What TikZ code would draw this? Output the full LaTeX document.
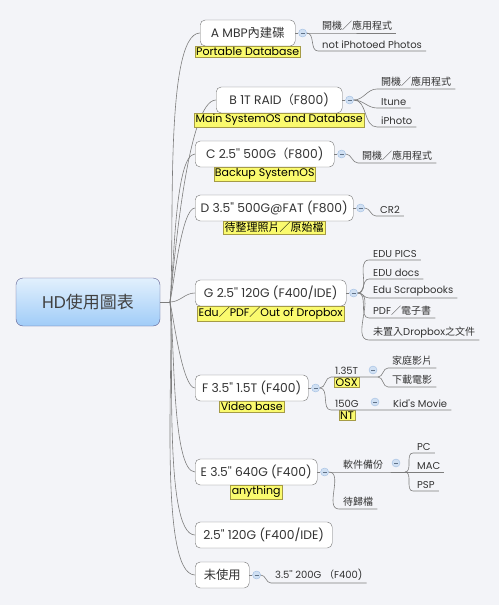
\documentclass[tikz,border=0pt]{standalone}
\usepackage{fontspec}
\setmainfont{Poppins}[Ligatures=TeXOff]
\newfontfamily\zh{Noto Sans CJK TC}
\usetikzlibrary{positioning}

\definecolor{paper}{RGB}{243,244,248}
\definecolor{rim}{RGB}{115,115,115}
\definecolor{twig}{RGB}{125,125,125}
\definecolor{tagfill}{RGB}{250,250,110}
\definecolor{tagrim}{RGB}{165,155,70}
\definecolor{knobfill}{RGB}{208,224,243}
\definecolor{knobrim}{RGB}{160,190,226}
\definecolor{roothi}{RGB}{226,240,253}
\definecolor{rootlo}{RGB}{160,204,248}

\tikzset{
  hd/.style={draw=rim!80!blue, rounded corners=7pt, top color=roothi, bottom color=rootlo,
    minimum width=144pt, minimum height=48pt, font=\fontsize{17}{20}\selectfont, text=black!75},
  drive/.style={draw=rim, rounded corners=5pt, fill=white, minimum height=26pt, anchor=west,
    inner xsep=3pt, font=\fontsize{12.3}{14}\selectfont, text=black!80},
  tag/.style={fill=tagfill, draw=tagrim, inner sep=1.2pt, font=\fontsize{11}{12}\selectfont},
  knob/.style={circle, minimum size=8pt, inner sep=0pt, draw=knobrim, fill=knobfill,
    path picture={\draw[knobrim!60!black] ([xshift=-2pt]path picture bounding box.center)
      -- ([xshift=2pt]path picture bounding box.center);}},
  leaf/.style={anchor=south west, inner xsep=4pt, inner ysep=2.2pt,
    font=\fontsize{10}{11}\selectfont, text=black!80},
  limb/.style={draw=twig, line width=0.6pt},
  trunk/.style={limb, in=180, out looseness=0.5, in looseness=0.35},
}

\begin{document}
\begin{tikzpicture}[x=1pt,y=1pt]
\fill[paper] (0,0) rectangle (499,-605);

\node[hd] at (88,-302) (root) {HD{\zh 使用圖表}};
\coordinate (hub) at (170,-302);
\draw[limb] (root.east) -- (hub);

% drives
\node[drive, minimum width=95pt] at (200,-33) (A) {A MBP{\zh 內建碟}};
\node[drive, minimum width=126pt] at (216,-100) (B) {B 1T RAID{\zh （}F800)};
\node[drive, minimum width=139pt] at (195,-154) (C) {C 2.5'' 500G{\zh （}F800)};
\node[drive, minimum width=158pt] at (195,-208) (D) {D 3.5'' 500G@FAT (F800)};
\node[drive, minimum width=151pt] at (195,-293) (G) {G 2.5'' 120G (F400/IDE)};
\node[drive, minimum width=113pt] at (195,-388) (F) {F 3.5'' 1.5T (F400)};
\node[drive, minimum width=122pt] at (195,-472) (E) {E 3.5'' 640G (F400)};
\node[drive, minimum width=137pt] at (195,-535) (X) {2.5'' 120G (F400/IDE)};
\node[drive, minimum width=54pt] at (195,-575) (U) {{\zh 未使用}};

\draw[trunk, out=84] (hub) to (A.west);
\draw[trunk, out=84] (hub) to (B.west);
\draw[trunk, out=82] (hub) to (C.west);
\draw[trunk, out=78] (hub) to (D.west);
\draw[limb] (hub) to[out=0, in=180] (G.west);
\draw[trunk, out=-78] (hub) to (F.west);
\draw[trunk, out=-82] (hub) to (E.west);
\draw[trunk, out=-84] (hub) to (X.west);
\draw[trunk, out=-85] (hub) to (U.west);

% labels
\node[tag, below=0pt of A] (Atag) {Portable Database};
\node[tag, below=0pt of B] (Btag) {Main SystemOS and Database};
\node[tag, below=0pt of C] (Ctag) {Backup SystemOS};
\node[tag, below=0pt of D] (Dtag) {\zh 待整理照片／原始檔};
\node[tag, below=0pt of G] (Gtag) {Edu{\zh ／}PDF{\zh ／}Out of Dropbox};
\node[tag, below=0pt of F] (Ftag) {Video base};
\node[tag, below=0pt of E] (Etag) {anything};

% knobs
\foreach \d in {A,B,C,D,G,F,E,U}{
  \node[knob, right=3pt of \d] (\d k) {};
  \draw[limb] (\d) -- (\d k);
}

% A
\node[leaf] at (318,-33) (a1) {\zh 開機／應用程式};
\node[leaf] at (318,-51) (a2) {not iPhotoed Photos};
\foreach \l in {a1,a2}
  \draw[limb] (Ak.east) to[out=0, in=180] (\l.south west) -- (\l.south east);

% B
\node[leaf] at (377,-89) (b1) {\zh 開機／應用程式};
\node[leaf] at (377,-108) (b2) {Itune};
\node[leaf] at (377,-127) (b3) {iPhoto};
\foreach \l in {b1,b2,b3}
  \draw[limb] (Bk.east) to[out=0, in=180] (\l.south west) -- (\l.south east);

% C
\node[leaf] at (358,-163) (c1) {\zh 開機／應用程式};
\draw[limb] (Ck.east) to[out=0, in=180] (c1.south west) -- (c1.south east);

% D
\node[leaf] at (376,-216) (d1) {CR2};
\draw[limb] (Dk.east) to[out=0, in=180] (d1.south west) -- (d1.south east);

% G
\node[leaf] at (369,-260) (g1) {EDU PICS};
\node[leaf] at (369,-279) (g2) {EDU docs};
\node[leaf] at (369,-298) (g3) {Edu Scrapbooks};
\node[leaf] at (369,-318) (g4) {PDF{\zh ／電子書}};
\node[leaf] at (369,-340) (g5) {{\zh 未置入}Dropbox{\zh 之文件}};
\foreach \l in {g1,g2,g3,g4,g5}
  \draw[limb] (Gk.east) to[out=0, in=180] (\l.south west) -- (\l.south east);

% F
\node[leaf] at (331,-377) (f1) {1.35T};
\node[tag, below=0pt of f1.south] (f1tag) {OSX};
\node[knob] at (373,-370) (f1k) {};
\coordinate (f1s) at (378,-377);
\node[leaf] at (388,-368) (f11) {\zh 家庭影片};
\node[leaf] at (388,-387) (f12) {\zh 下載電影};
\draw[limb] (Fk.east) to[out=0, in=180] (f1.south west) -- (f1s);
\foreach \l in {f11,f12}
  \draw[limb] (f1s) to[out=0, in=180] (\l.south west) -- (\l.south east);
\node[leaf] at (331,-410) (f2) {150G};
\node[tag, below=0pt of f2.south] (f2tag) {NT};
\node[knob] at (375,-402) (f2k) {};
\node[leaf] at (389,-410) (f21) {Kid's Movie};
\draw[limb] (Fk.east) to[out=0, in=180] (f2.south west) -- (f21.south east);

% E
\node[leaf] at (339,-472) (e1) {\zh 軟件備份};
\node[knob] at (396,-463) (e1k) {};
\coordinate (e1s) at (405,-472);
\node[leaf] at (413,-453) (e11) {PC};
\node[leaf] at (413,-472) (e12) {MAC};
\node[leaf] at (413,-491) (e13) {PSP};
\draw[limb] (Ek.east) -- (e1.south west) -- (e12.south east);
\foreach \l in {e11,e13}
  \draw[limb] (e1s) to[out=0, in=180] (\l.south west) -- (\l.south east);
\node[leaf] at (339,-509) (e2) {\zh 待歸檔};
\draw[limb] (Ek.east) to[out=0, in=180] (e2.south west) -- (e2.south east);

% unused
\node[leaf] at (271,-583) (u1) {3.5'' 200G {\zh （}F400)};
\draw[limb] (Uk.east) to[out=0, in=180] (u1.south west) -- (u1.south east);

\end{tikzpicture}
\end{document}
